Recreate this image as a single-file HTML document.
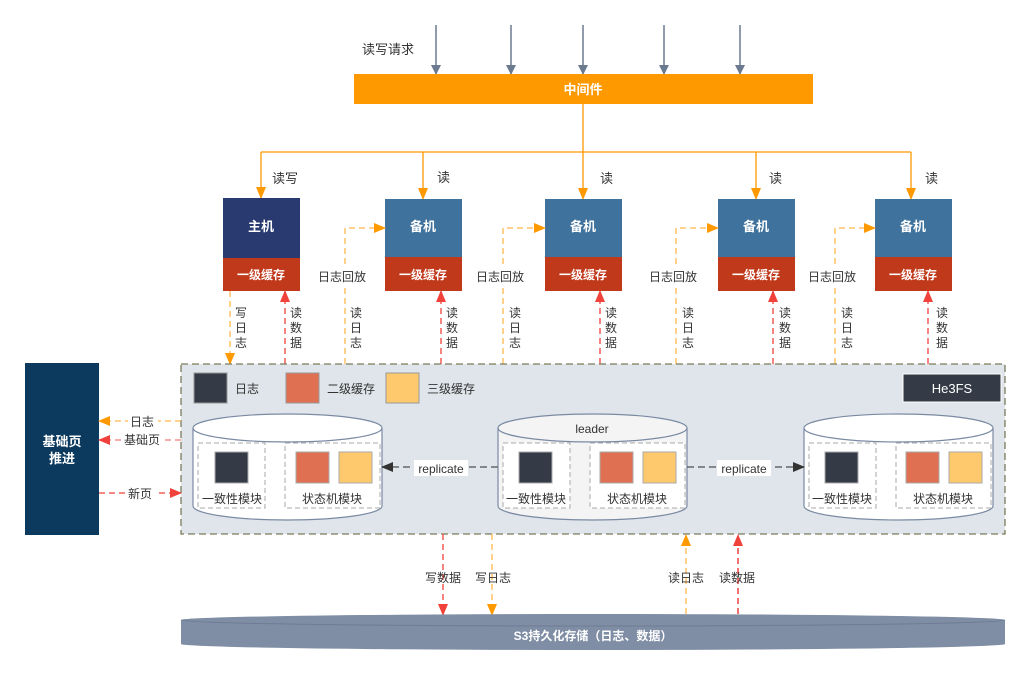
<!DOCTYPE html>
<html><head><meta charset="utf-8"><style>
body{margin:0;background:#fff}
svg{display:block;font-family:"Liberation Sans","Noto Sans CJK SC",sans-serif}
</style></head><body>
<svg width="1031" height="675" viewBox="0 0 1031 675" xmlns="http://www.w3.org/2000/svg">
<defs>
<marker id="ag" markerWidth="10" markerHeight="10" refX="9" refY="5" orient="auto" markerUnits="userSpaceOnUse"><path d="M0,0 L10,5 L0,10 Z" fill="#6b7a8f"/></marker>
<marker id="ao" markerWidth="12" markerHeight="10" refX="11" refY="5" orient="auto" markerUnits="userSpaceOnUse"><path d="M0,0 L12,5 L0,10 Z" fill="#ff9900"/></marker>
<marker id="ar" markerWidth="12" markerHeight="10" refX="11" refY="5" orient="auto" markerUnits="userSpaceOnUse"><path d="M0,0 L12,5 L0,10 Z" fill="#f0413b"/></marker>
<marker id="ad" markerWidth="12" markerHeight="10" refX="11" refY="5" orient="auto" markerUnits="userSpaceOnUse"><path d="M0,0 L12,5 L0,10 Z" fill="#333"/></marker>
</defs>

<!-- top requests -->
<text x="362" y="54" font-size="13" fill="#333">读写请求</text>
<g stroke="#6b7a8f" stroke-width="1.5" marker-end="url(#ag)">
<line x1="436" y1="25" x2="436" y2="74"/><line x1="511" y1="25" x2="511" y2="74"/>
<line x1="583" y1="25" x2="583" y2="74"/><line x1="664" y1="25" x2="664" y2="74"/>
<line x1="740" y1="25" x2="740" y2="74"/>
</g>
<rect x="354" y="74" width="459" height="30" fill="#ff9900"/>
<text x="583" y="94" font-size="13" font-weight="bold" fill="#fff" text-anchor="middle">中间件</text>

<!-- distribution -->
<g stroke="#ff9900" stroke-width="1.3" fill="none">
<line x1="583" y1="104" x2="583" y2="152"/>
<line x1="261" y1="152" x2="911" y2="152"/>
<line x1="261" y1="152" x2="261" y2="198" marker-end="url(#ao)"/>
<line x1="423" y1="152" x2="423" y2="199" marker-end="url(#ao)"/>
<line x1="583" y1="152" x2="583" y2="199" marker-end="url(#ao)"/>
<line x1="756" y1="152" x2="756" y2="199" marker-end="url(#ao)"/>
<line x1="911" y1="152" x2="911" y2="199" marker-end="url(#ao)"/>
</g>
<g font-size="13" fill="#333">
<text x="272" y="183">读写</text><text x="437" y="182">读</text><text x="600" y="183">读</text>
<text x="769" y="183">读</text><text x="925" y="183">读</text>
</g>

<!-- hosts -->
<rect x="223" y="198" width="77" height="60" fill="#283a6f"/>
<rect x="223" y="258" width="77" height="33" fill="#c0391b"/>
<text x="261" y="231" font-size="13" font-weight="bold" fill="#fff" text-anchor="middle">主机</text>
<text x="261" y="279" font-size="12" font-weight="bold" fill="#fff" text-anchor="middle">一级缓存</text>
<g font-weight="bold" fill="#fff" text-anchor="middle">
<rect x="385" y="199" width="77" height="58" fill="#3f729c"/><rect x="385" y="257" width="77" height="34" fill="#c0391b"/>
<text x="423" y="231" font-size="13">备机</text><text x="423" y="279" font-size="12">一级缓存</text>
<rect x="545" y="199" width="77" height="58" fill="#3f729c"/><rect x="545" y="257" width="77" height="34" fill="#c0391b"/>
<text x="583" y="231" font-size="13">备机</text><text x="583" y="279" font-size="12">一级缓存</text>
<rect x="718" y="199" width="77" height="58" fill="#3f729c"/><rect x="718" y="257" width="77" height="34" fill="#c0391b"/>
<text x="756" y="231" font-size="13">备机</text><text x="756" y="279" font-size="12">一级缓存</text>
<rect x="875" y="199" width="77" height="58" fill="#3f729c"/><rect x="875" y="257" width="77" height="34" fill="#c0391b"/>
<text x="913" y="231" font-size="13">备机</text><text x="913" y="279" font-size="12">一级缓存</text>
</g>

<!-- host <-> He3FS arrows -->
<g stroke-width="1.3" fill="none" stroke-dasharray="6,4">
<line x1="230" y1="291" x2="230" y2="364" stroke="#ffb84d" marker-end="url(#ao)"/>
<line x1="285" y1="364" x2="285" y2="291" stroke="#f0413b" marker-end="url(#ar)"/>
<polyline points="345,364 345,228 385,228" stroke="#ffb84d" marker-end="url(#ao)"/>
<line x1="441" y1="364" x2="441" y2="291" stroke="#f0413b" marker-end="url(#ar)"/>
<polyline points="503,364 503,228 545,228" stroke="#ffb84d" marker-end="url(#ao)"/>
<line x1="600" y1="364" x2="600" y2="291" stroke="#f0413b" marker-end="url(#ar)"/>
<polyline points="676,364 676,228 718,228" stroke="#ffb84d" marker-end="url(#ao)"/>
<line x1="773" y1="364" x2="773" y2="291" stroke="#f0413b" marker-end="url(#ar)"/>
<polyline points="835,364 835,228 875,228" stroke="#ffb84d" marker-end="url(#ao)"/>
<line x1="928" y1="364" x2="928" y2="291" stroke="#f0413b" marker-end="url(#ar)"/>
</g>
<g font-size="12" fill="#333">
<rect x="317" y="268" width="56" height="16" fill="#fff"/><text x="318" y="281">日志回放</text>
<rect x="475" y="268" width="56" height="16" fill="#fff"/><text x="476" y="281">日志回放</text>
<rect x="648" y="268" width="56" height="16" fill="#fff"/><text x="649" y="281">日志回放</text>
<rect x="807" y="268" width="56" height="16" fill="#fff"/><text x="808" y="281">日志回放</text>
</g>
<g font-size="12" fill="#333" text-anchor="middle">
<text x="241" y="317">写</text><text x="241" y="332">日</text><text x="241" y="347">志</text>
<text x="296" y="317">读</text><text x="296" y="332">数</text><text x="296" y="347">据</text>
<text x="356" y="317">读</text><text x="356" y="332">日</text><text x="356" y="347">志</text>
<text x="452" y="317">读</text><text x="452" y="332">数</text><text x="452" y="347">据</text>
<text x="515" y="317">读</text><text x="515" y="332">日</text><text x="515" y="347">志</text>
<text x="611" y="317">读</text><text x="611" y="332">数</text><text x="611" y="347">据</text>
<text x="688" y="317">读</text><text x="688" y="332">日</text><text x="688" y="347">志</text>
<text x="785" y="317">读</text><text x="785" y="332">数</text><text x="785" y="347">据</text>
<text x="847" y="317">读</text><text x="847" y="332">日</text><text x="847" y="347">志</text>
<text x="942" y="317">读</text><text x="942" y="332">数</text><text x="942" y="347">据</text>
</g>

<!-- He3FS container -->
<rect x="181" y="364" width="824" height="170" fill="#dfe5ea" stroke="#7a7a5a" stroke-width="1.3" stroke-dasharray="7,4"/>
<rect x="194" y="373" width="33" height="30" fill="#343a46" stroke="#999"/>
<text x="235" y="393" font-size="12" fill="#333">日志</text>
<rect x="286" y="373" width="33" height="30" fill="#e07052" stroke="#999"/>
<text x="327" y="393" font-size="12" fill="#333">二级缓存</text>
<rect x="386" y="373" width="33" height="30" fill="#fdc96c" stroke="#999"/>
<text x="427" y="393" font-size="12" fill="#333">三级缓存</text>
<rect x="903" y="374" width="98" height="28" fill="#343a46" stroke="#fff"/>
<text x="952" y="393" font-size="13" fill="#fff" text-anchor="middle">He3FS</text>

<!-- cylinders -->
<g stroke="#7a8aa3" stroke-width="1.2">
<path d="M193,428 L193,506 A94.5,14 0 0 0 382,506 L382,428" fill="#fff"/>
<ellipse cx="287.5" cy="428" rx="94.5" ry="14" fill="#fff"/>
<path d="M498,428 L498,506 A94.5,14 0 0 0 687,506 L687,428" fill="#f4f4f4"/>
<ellipse cx="592.5" cy="428" rx="94.5" ry="14" fill="#f4f4f4"/>
<path d="M804,428 L804,506 A94.5,14 0 0 0 993,506 L993,428" fill="#fff"/>
<ellipse cx="898.5" cy="428" rx="94.5" ry="14" fill="#fff"/>
</g>
<text x="592" y="433" font-size="12" fill="#333" text-anchor="middle">leader</text>
<g fill="#fff" stroke="#aaa" stroke-dasharray="5,3">
<rect x="198" y="443" width="67" height="65"/><rect x="285" y="443" width="95" height="65"/>
<rect x="503" y="443" width="67" height="65"/><rect x="590" y="443" width="95" height="65"/>
<rect x="809" y="443" width="67" height="65"/><rect x="896" y="443" width="95" height="65"/>
</g>
<g stroke="#aaa">
<rect x="215" y="452" width="33" height="31" fill="#343a46"/><rect x="296" y="452" width="33" height="31" fill="#e07052"/><rect x="339" y="452" width="33" height="31" fill="#fdc96c"/>
<rect x="519" y="452" width="33" height="31" fill="#343a46"/><rect x="600" y="452" width="33" height="31" fill="#e07052"/><rect x="643" y="452" width="33" height="31" fill="#fdc96c"/>
<rect x="825" y="452" width="33" height="31" fill="#343a46"/><rect x="906" y="452" width="33" height="31" fill="#e07052"/><rect x="949" y="452" width="33" height="31" fill="#fdc96c"/>
</g>
<g font-size="12" fill="#333" text-anchor="middle">
<text x="232" y="503">一致性模块</text><text x="332" y="503">状态机模块</text>
<text x="536" y="503">一致性模块</text><text x="637" y="503">状态机模块</text>
<text x="842" y="503">一致性模块</text><text x="943" y="503">状态机模块</text>
</g>
<g stroke="#666" stroke-width="1.5" stroke-dasharray="7,4" fill="none">
<line x1="498" y1="467" x2="382" y2="467" marker-end="url(#ad)"/>
<line x1="687" y1="467" x2="804" y2="467" marker-end="url(#ad)"/>
</g>
<rect x="414" y="460" width="54" height="16" fill="#fff"/>
<text x="441" y="473" font-size="12" fill="#333" text-anchor="middle">replicate</text>
<rect x="717" y="460" width="54" height="16" fill="#fff"/>
<text x="744" y="473" font-size="12" fill="#333" text-anchor="middle">replicate</text>

<!-- base page -->
<rect x="25" y="363" width="74" height="172" fill="#0b3a5e"/>
<text x="62" y="446" font-size="13" font-weight="bold" fill="#fff" text-anchor="middle">基础页</text>
<text x="62" y="463" font-size="13" font-weight="bold" fill="#fff" text-anchor="middle">推进</text>
<g stroke-width="1.3" stroke-dasharray="6,4" fill="none">
<line x1="181" y1="421" x2="99" y2="421" stroke="#ffb84d" marker-end="url(#ao)"/>
<line x1="181" y1="440" x2="99" y2="440" stroke="#f37b77" marker-end="url(#ar)"/>
<line x1="99" y1="493" x2="181" y2="493" stroke="#f0413b" marker-end="url(#ar)"/>
</g>
<g font-size="12" fill="#333" text-anchor="middle">
<rect x="128" y="414" width="30" height="14" fill="#fff"/><text x="142" y="426">日志</text>
<rect x="123" y="433" width="38" height="14" fill="#fff"/><text x="142" y="444">基础页</text>
<rect x="127" y="486" width="30" height="14" fill="#fff"/><text x="140" y="498">新页</text>
</g>

<!-- S3 -->
<g stroke-width="1.3" stroke-dasharray="6,4" fill="none">
<line x1="443" y1="534" x2="443" y2="615" stroke="#f0413b" marker-end="url(#ar)"/>
<line x1="492" y1="534" x2="492" y2="615" stroke="#ffb84d" marker-end="url(#ao)"/>
<line x1="686" y1="614" x2="686" y2="535" stroke="#ffb84d" marker-end="url(#ao)"/>
<line x1="738" y1="614" x2="738" y2="535" stroke="#e22" marker-end="url(#ar)"/>
</g>
<g font-size="12" fill="#333" text-anchor="middle">
<text x="443" y="582">写数据</text><text x="493" y="582">写日志</text>
<text x="686" y="582">读日志</text><text x="737" y="582">读数据</text>
</g>
<path d="M181,620 A412,6 0 0 1 1005,620 L1005,644 A412,6 0 0 1 181,644 Z" fill="#7f8ea5"/>
<path d="M181,620 A412,6 0 0 0 1005,620" fill="none" stroke="#6d7c93"/>
<text x="593" y="640" font-size="12" font-weight="bold" fill="#fff" text-anchor="middle">S3持久化存储（日志、数据）</text>
</svg>
</body></html>
